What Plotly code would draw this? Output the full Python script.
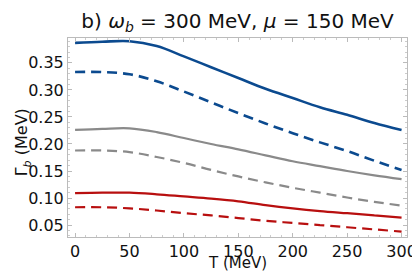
import plotly.graph_objects as go

T = [0, 25, 50, 75, 100, 125, 150, 175, 200, 225, 250, 275, 300]
blue_solid = [0.387, 0.389, 0.390, 0.381, 0.362, 0.342, 0.322, 0.302, 0.285, 0.268, 0.254, 0.239, 0.226]
blue_dash = [0.333, 0.333, 0.329, 0.316, 0.297, 0.277, 0.257, 0.238, 0.220, 0.203, 0.187, 0.169, 0.152]
gray_solid = [0.226, 0.228, 0.229, 0.222, 0.211, 0.200, 0.190, 0.179, 0.168, 0.159, 0.150, 0.142, 0.135]
gray_dash = [0.188, 0.188, 0.185, 0.176, 0.165, 0.152, 0.140, 0.129, 0.119, 0.110, 0.101, 0.093, 0.086]
red_solid = [0.109, 0.110, 0.110, 0.107, 0.103, 0.099, 0.094, 0.087, 0.081, 0.076, 0.072, 0.068, 0.064]
red_dash = [0.083, 0.083, 0.081, 0.077, 0.072, 0.068, 0.063, 0.058, 0.054, 0.050, 0.046, 0.042, 0.038]

xticks = [0, 50, 100, 150, 200, 250, 300]
yticks = [0.05, 0.10, 0.15, 0.20, 0.25, 0.30, 0.35]
ytick_labels = ["0.05", "0.10", "0.15", "0.20", "0.25", "0.30", "0.35"]

BLUE = "#0b4a8f"
GRAY = "#8a8a8a"
RED = "#b80f0f"
DASH = "10px,6px"
FONT = "DejaVu Sans, Liberation Sans, sans-serif"

W, H = 420, 273
ML, MR, MT, MB = 60, 11, 30, 44
plot_w = W - ML - MR
plot_h = H - MT - MB

series = [
    (blue_solid, BLUE, "solid", 2.6),
    (blue_dash, BLUE, DASH, 2.6),
    (gray_solid, GRAY, "solid", 2.2),
    (gray_dash, GRAY, DASH, 2.2),
    (red_solid, RED, "solid", 2.2),
    (red_dash, RED, DASH, 2.2),
]

fig = go.Figure()
for ys, c, d, w in series:
    fig.add_trace(go.Scatter(x=T, y=ys, mode="lines",
                             line=dict(color=c, dash=d, width=w, shape="spline", smoothing=1.0),
                             showlegend=False, hoverinfo="skip"))

axis_common = dict(
    showline=True, linecolor="#bbbbbb", linewidth=1, mirror="ticks",
    ticks="inside", tickcolor="#bbbbbb", ticklen=4,
    showgrid=False, zeroline=False,
    tickfont=dict(family=FONT, size=16, color="#111111"),
)

fig.update_layout(
    width=W, height=H,
    margin=dict(l=ML, r=MR, t=MT, b=MB),
    plot_bgcolor="white", paper_bgcolor="white",
    title=dict(text="b) <i>ω</i><sub><i>b</i></sub> = 300 MeV, <i>μ</i> = 150 MeV",
               x=0.5, xref="paper", xanchor="center", y=1 - 13 / H, yref="container", yanchor="middle",
               font=dict(family=FONT, size=20, color="#111111")),
    xaxis=dict(range=[-6.5, 305], tickvals=xticks,
               minor=dict(ticks="inside", ticklen=2, tickcolor="#cccccc", dtick=10),
               **axis_common),
    yaxis=dict(range=[0.028, 0.396], tickvals=yticks, ticktext=ytick_labels,
               minor=dict(ticks="inside", ticklen=2, tickcolor="#cccccc", dtick=0.01),
               **axis_common),
    annotations=[
        dict(text="T (MeV)", x=0.5, xref="paper", y=-(255 - 229) / plot_h, yref="paper",
             yanchor="middle", showarrow=False, font=dict(family=FONT, size=15, color="#111111")),
        dict(text="Γ<sub><i>b</i></sub> (MeV)", x=-(60 - 13) / plot_w, xref="paper", xanchor="center",
             y=(229 - 134) / plot_h, yref="paper", yanchor="middle",
             showarrow=False, textangle=-90, font=dict(family=FONT, size=16, color="#111111")),
    ],
)

fig.write_html("out.html")
